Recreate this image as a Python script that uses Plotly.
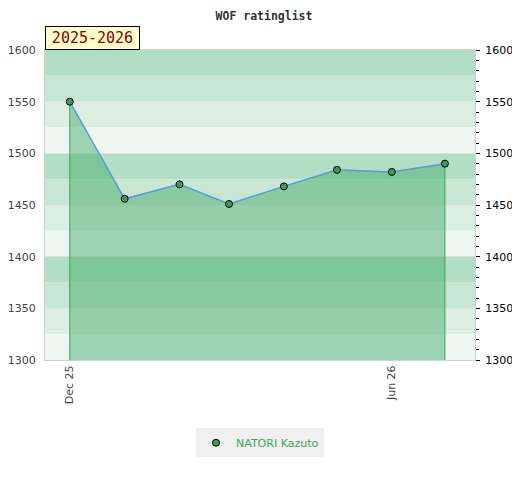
import plotly.graph_objects as go

# monthly rating of the player, Dec 2025 .. Jul 2026
dates = ['2025-12-01', '2026-01-01', '2026-02-01', '2026-03-01',
         '2026-04-01', '2026-05-01', '2026-06-01', '2026-07-01']
ratings = [1550, 1456, 1470, 1451, 1468, 1484, 1482, 1490]
player = 'NATORI Kazuto'
season = '2025-2026'
tick_dates = ['2025-12-01', '2026-06-01']
y_min, y_max = 1300, 1600

band_colors = ['#b2dec5', '#c8e6d4', '#dbeee2', '#eef7f1']

fig = go.Figure()

# fill under the line
fig.add_trace(go.Scatter(
    x=dates, y=ratings, mode='none', fill='tozeroy',
    fillcolor='rgba(50,165,90,0.42)', showlegend=False, hoverinfo='skip'
))

# green edges at both ends of the filled area
for i in (0, -1):
    fig.add_trace(go.Scatter(
        x=[dates[i], dates[i]], y=[y_min, ratings[i]], mode='lines',
        line=dict(color='#34a853', width=1), showlegend=False, hoverinfo='skip'
    ))

fig.add_trace(go.Scatter(
    x=dates, y=ratings, mode='lines',
    line=dict(color='#5b9bd5', width=1.5), showlegend=False, hoverinfo='skip'
))
# markers separately so the legend shows only the dot
fig.add_trace(go.Scatter(
    x=dates, y=ratings, mode='markers', name=player,
    marker=dict(size=7, color='#3a9c5c', line=dict(color='black', width=1))
))

# invisible copy so the right axis is drawn
fig.add_trace(go.Scatter(
    x=dates, y=ratings, yaxis='y2', mode='lines', opacity=0,
    showlegend=False, hoverinfo='skip'
))

# striped background
for k, lo in enumerate(range(y_max - 25, y_min - 1, -25)):
    fig.add_shape(type='rect', xref='paper', yref='y', x0=0, x1=1,
                  y0=lo, y1=lo + 25, fillcolor=band_colors[k % 4],
                  line_width=0, layer='below')

fig.add_annotation(
    text=season, xref='paper', yref='paper', x=0, y=1,
    xanchor='left', yanchor='bottom', showarrow=False,
    font=dict(family='DejaVu Sans Mono', size=15, color='#8b0000'),
    bgcolor='#ffffcc', bordercolor='black', borderwidth=1, borderpad=2,
    width=89, height=18
)

# the page body adds an 8px margin, so the figure is 8px smaller
fig.update_layout(
    width=512, height=472,
    margin=dict(l=37, r=45, t=42, b=120, autoexpand=False),
    paper_bgcolor='white', plot_bgcolor='white',
    title=dict(text='<b>WOF ratinglist</b>', x=0.5, xanchor='center', y=0.992, yanchor='top',
               font=dict(family='DejaVu Sans Mono', size=11.5, color='#333')),
    xaxis=dict(
        type='date', range=['2025-11-17', '2026-07-18'], automargin=False,
        tickvals=tick_dates, tickformat='%b %y', tickangle=-90,
        tickfont=dict(family='DejaVu Sans', size=11, color='#444'),
        showgrid=False, zeroline=False, ticks='',
        showline=True, linecolor='#d0d0d0', mirror=True
    ),
    yaxis=dict(
        range=[y_min, y_max], dtick=50, ticks='', automargin=False,
        tickfont=dict(family='DejaVu Sans', size=11, color='#444'),
        gridcolor='#e2e2e2', zeroline=False, ticklabelstandoff=6,
        showline=True, linecolor='#d0d0d0', mirror=True
    ),
    yaxis2=dict(
        range=[y_min, y_max], dtick=50, overlaying='y', side='right',
        ticks='outside', ticklen=4, tickcolor='black', automargin=False,
        minor=dict(dtick=10, ticks='outside', ticklen=3, tickcolor='black'),
        tickfont=dict(family='DejaVu Sans', size=11, color='black'),
        ticklabelstandoff=3,
        showgrid=False, zeroline=False, showline=False
    ),
    legend=dict(
        orientation='h', x=0.5, xanchor='center', y=-0.22, yanchor='top',
        bgcolor='#f0f0f0', font=dict(family='DejaVu Sans', size=11, color='#3aa65c')
    ),
)

fig.write_html('out.html')
